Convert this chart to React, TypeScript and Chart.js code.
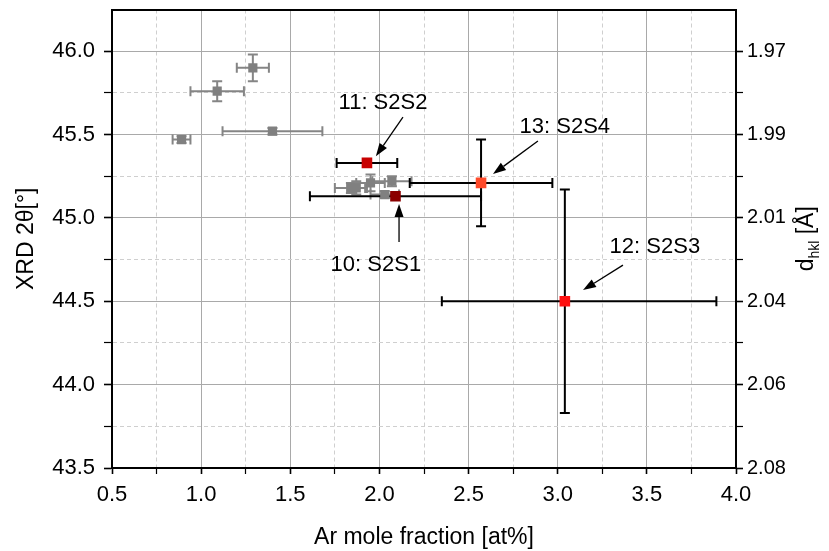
import React, { useEffect, useRef } from "react";
import { Chart, registerables } from "chart.js";

Chart.register(...registerables);

// ---- data ----
const greyX = [0.89, 1.09, 1.29, 1.4, 1.84, 1.87, 1.95, 2.07, 2.03];
const greyY = [45.47, 45.76, 45.9, 45.52, 45.18, 45.18, 45.21, 45.22, 45.14];
const greyXErr = [0.05, 0.15, 0.09, 0.28, 0.09, 0.05, 0.08, 0.11, 0.08];
const greyYErr = [0.02, 0.06, 0.08, 0.02, 0.03, 0.04, 0.05, 0.03, 0.02];

const sampleNames = ["10: S2S1", "11: S2S2", "12: S2S3", "13: S2S4"];
const sampleX = [2.09, 1.93, 3.04, 2.57];
const sampleY = [45.13, 45.33, 44.5, 45.21];
const sampleXErrMinus = [0.48, 0.17, 0.69, 0.4];
const sampleXErrPlus = [0.48, 0.17, 0.85, 0.4];
const sampleYErr = [0, 0, 0.67, 0.26];
const sampleColors = ["#8b0000", "#c80000", "#ff1010", "#ff4a2a"];

// annotation positions (data units)
const annTextX = [1.98, 2.02, 3.545, 3.04];
const annTextY = [44.717, 45.689, 44.825, 45.545];
const annTailX = [2.11, 2.132, 3.366, 2.889];
const annTailY = [44.855, 45.605, 44.717, 45.461];
const annTipX = [2.11, 1.98, 3.142, 2.637];
const annTipY = [45.083, 45.37, 44.567, 45.263];

const xMin = 0.5;
const xMax = 4.0;
const yMin = 43.5;
const yMax = 46.25;
const twoThetaMajor = [46.0, 45.5, 45.0, 44.5, 44.0, 43.5];
const dTickLabels = ["1.97", "1.99", "2.01", "2.04", "2.06", "2.08"];

const xTitle = "Ar mole fraction [at%]";
const yTitle = "XRD 2\u03b8[\u00b0]";

const FONT = "'Liberation Sans', Arial, Helvetica, sans-serif";

const isMajor = (v: number) => Math.abs(v * 2 - Math.round(v * 2)) < 1e-6;

const errorBarPlugin = {
  id: "errorBars",
  beforeDatasetsDraw(chart: any) {
    const ctx = chart.ctx;
    const xs = chart.scales.x;
    const ys = chart.scales.y;
    const cap = 5;
    const draw = (x: number, y: number, xm: number, xp: number, ye: number, color: string) => {
      ctx.save();
      ctx.strokeStyle = color;
      ctx.lineWidth = 2;
      const px = xs.getPixelForValue(x);
      const py = ys.getPixelForValue(y);
      if (xm > 0 || xp > 0) {
        const l = xs.getPixelForValue(x - xm);
        const r = xs.getPixelForValue(x + xp);
        ctx.beginPath();
        ctx.moveTo(l, py);
        ctx.lineTo(r, py);
        ctx.moveTo(l, py - cap);
        ctx.lineTo(l, py + cap);
        ctx.moveTo(r, py - cap);
        ctx.lineTo(r, py + cap);
        ctx.stroke();
      }
      if (ye > 0) {
        const t = ys.getPixelForValue(y + ye);
        const b = ys.getPixelForValue(y - ye);
        ctx.beginPath();
        ctx.moveTo(px, t);
        ctx.lineTo(px, b);
        ctx.moveTo(px - cap, t);
        ctx.lineTo(px + cap, t);
        ctx.moveTo(px - cap, b);
        ctx.lineTo(px + cap, b);
        ctx.stroke();
      }
      ctx.restore();
    };
    greyX.forEach((x, i) => draw(x, greyY[i], greyXErr[i], greyXErr[i], greyYErr[i], "#858585"));
    sampleX.forEach((x, i) => draw(x, sampleY[i], sampleXErrMinus[i], sampleXErrPlus[i], sampleYErr[i], "#000"));
  },
};

const annotationPlugin = {
  id: "annotations",
  afterDatasetsDraw(chart: any) {
    const ctx = chart.ctx;
    const xs = chart.scales.x;
    const ys = chart.scales.y;
    ctx.save();
    ctx.fillStyle = "#000";
    ctx.strokeStyle = "#000";
    ctx.font = `22px ${FONT}`;
    ctx.textAlign = "center";
    ctx.textBaseline = "middle";
    sampleNames.forEach((name, i) => {
      ctx.fillText(name, xs.getPixelForValue(annTextX[i]), ys.getPixelForValue(annTextY[i]));
      const x1 = xs.getPixelForValue(annTailX[i]);
      const y1 = ys.getPixelForValue(annTailY[i]);
      const x2 = xs.getPixelForValue(annTipX[i]);
      const y2 = ys.getPixelForValue(annTipY[i]);
      const ang = Math.atan2(y2 - y1, x2 - x1);
      const hl = 13;
      const hw = 4.5;
      const bx = x2 - hl * Math.cos(ang);
      const by = y2 - hl * Math.sin(ang);
      ctx.lineWidth = 1.3;
      ctx.beginPath();
      ctx.moveTo(x1, y1);
      ctx.lineTo(bx, by);
      ctx.stroke();
      ctx.beginPath();
      ctx.moveTo(x2, y2);
      ctx.lineTo(bx + hw * Math.sin(ang), by - hw * Math.cos(ang));
      ctx.lineTo(bx - hw * Math.sin(ang), by + hw * Math.cos(ang));
      ctx.closePath();
      ctx.fill();
    });
    ctx.restore();
  },
};

const rightTitlePlugin = {
  id: "rightTitle",
  afterDraw(chart: any) {
    const ctx = chart.ctx;
    const area = chart.chartArea;
    const cx = 807;
    const cy = (area.top + area.bottom) / 2;
    ctx.save();
    ctx.translate(cx, cy);
    ctx.rotate(-Math.PI / 2);
    ctx.fillStyle = "#000";
    ctx.textBaseline = "middle";
    ctx.textAlign = "left";
    const big = `23px ${FONT}`;
    const small = `14px ${FONT}`;
    ctx.font = big;
    const w1 = ctx.measureText("d").width;
    const w3 = ctx.measureText(" [\u00c5]").width;
    ctx.font = small;
    const w2 = ctx.measureText("hkl").width;
    const total = w1 + w2 + w3;
    let x = -total / 2;
    ctx.font = big;
    ctx.fillText("d", x, 0);
    x += w1;
    ctx.font = small;
    ctx.fillText("hkl", x, 8);
    x += w2;
    ctx.font = big;
    ctx.fillText(" [\u00c5]", x, 0);
    ctx.restore();
  },
};

export default function App() {
  const ref = useRef<HTMLCanvasElement>(null);

  useEffect(() => {
    document.body.style.margin = "0";
    Chart.defaults.font.family = FONT;
    Chart.defaults.color = "#000";
    const canvas = ref.current!;
    const chart = new Chart(canvas, {
      type: "scatter",
      data: {
        datasets: [
          {
            label: "other",
            data: greyX.map((x, i) => ({ x, y: greyY[i] })),
            pointStyle: "rect",
            pointRadius: 6.5,
            backgroundColor: "#808080",
            borderWidth: 0,
            xAxisID: "x",
            yAxisID: "y",
          },
          {
            label: "samples",
            data: sampleX.map((x, i) => ({ x, y: sampleY[i] })),
            pointStyle: "rect",
            pointRadius: 7.5,
            backgroundColor: sampleColors,
            borderWidth: 0,
            xAxisID: "x",
            yAxisID: "y",
          },
        ],
      },
      options: {
        animation: false,
        responsive: false,
        layout: { padding: { top: 9.5, left: 0, right: 0, bottom: 0 } },
        plugins: {
          legend: { display: false },
          tooltip: { enabled: false },
        },
        scales: {
          x: {
            type: "linear",
            position: "bottom",
            min: xMin,
            max: xMax,
            afterFit: (s: any) => {
              s.height = 83;
            },
            ticks: {
              stepSize: 0.25,
              autoSkip: false,
              maxRotation: 0,
              padding: 8,
              color: "#000",
              font: { size: 22 },
              callback: (v: any) => (isMajor(Number(v)) ? Number(v).toFixed(1) : ""),
            },
            grid: {
              color: (c: any) => (c.tick && isMajor(c.tick.value) ? "rgba(0,0,0,0)" : "#cfcfcf"),
              lineWidth: 1,
              tickColor: "#000",
              tickLength: 6,
              tickWidth: (c: any) => (c.tick && isMajor(c.tick.value) ? 1.6 : 1.2),
            },
            border: { color: "#000", width: 2, dash: [4, 3] },
            title: {
              display: true,
              text: xTitle,
              font: { size: 23 },
              color: "#000",
              padding: { top: 0, bottom: 0 },
            },
          },
          xGrid: {
            type: "linear",
            position: "bottom",
            min: xMin,
            max: xMax,
            ticks: { display: false, stepSize: 0.5 },
            grid: { color: "#a9a9a9", drawTicks: false, lineWidth: 1 },
            border: { display: false },
          },
          xTop: {
            type: "linear",
            position: "top",
            min: xMin,
            max: xMax,
            ticks: { display: false },
            grid: { display: false, drawTicks: false },
            border: { display: true, color: "#000", width: 2 },
          },
          y: {
            type: "linear",
            position: "left",
            min: yMin,
            max: yMax,
            afterFit: (s: any) => {
              s.width = 112;
              s.paddingTop = 0;
            },
            ticks: {
              stepSize: 0.25,
              autoSkip: false,
              padding: 9,
              color: "#000",
              font: { size: 22 },
              callback: (v: any) => {
                const n = Number(v);
                if (Math.abs(n - yMax) < 1e-6) return null;
                return isMajor(n) ? n.toFixed(1) : "";
              },
            },
            grid: {
              color: (c: any) => (c.tick && isMajor(c.tick.value) ? "rgba(0,0,0,0)" : "#cfcfcf"),
              lineWidth: 1,
              tickColor: (c: any) => (c.tick && Math.abs(c.tick.value - yMax) < 1e-6 ? "rgba(0,0,0,0)" : "#000"),
              tickLength: 8,
              tickWidth: (c: any) => (c.tick && isMajor(c.tick.value) ? 1.6 : 1.2),
            },
            border: { color: "#000", width: 2, dash: [4, 3] },
            title: {
              display: true,
              text: yTitle,
              font: { size: 23 },
              color: "#000",
              padding: { top: 13, bottom: 0 },
            },
          },
          yGrid: {
            type: "linear",
            position: "left",
            min: yMin,
            max: yMax,
            ticks: { display: false, stepSize: 0.5 },
            grid: { color: "#a9a9a9", drawTicks: false, lineWidth: 1 },
            border: { display: false },
          },
          y2: {
            type: "linear",
            position: "right",
            min: yMin,
            max: yMax,
            afterFit: (s: any) => {
              s.width = 93;
              s.paddingTop = 0;
            },
            ticks: {
              stepSize: 0.25,
              autoSkip: false,
              padding: 4,
              color: "#000",
              font: { size: 20 },
              callback: (v: any) => {
                const n = Number(v);
                if (Math.abs(n - yMax) < 1e-6) return null;
                if (!isMajor(n)) return "";
                const idx = twoThetaMajor.findIndex((t) => Math.abs(t - n) < 1e-6);
                return idx >= 0 ? dTickLabels[idx] : "";
              },
            },
            grid: {
              drawOnChartArea: false,
              color: "#000",
              tickColor: (c: any) => (c.tick && Math.abs(c.tick.value - yMax) < 1e-6 ? "rgba(0,0,0,0)" : "#000"),
              tickLength: 7,
              tickWidth: (c: any) => (c.tick && isMajor(c.tick.value) ? 1.6 : 1.2),
            },
            border: { color: "#000", width: 2 },
          },
        },
      } as any,
      plugins: [errorBarPlugin, annotationPlugin, rightTitlePlugin],
    });
    return () => chart.destroy();
  }, []);

  return (
    <div style={{ width: 829, height: 551 }}>
      <canvas ref={ref} width={829} height={551} style={{ width: 829, height: 551, display: "block" }} />
    </div>
  );
}
